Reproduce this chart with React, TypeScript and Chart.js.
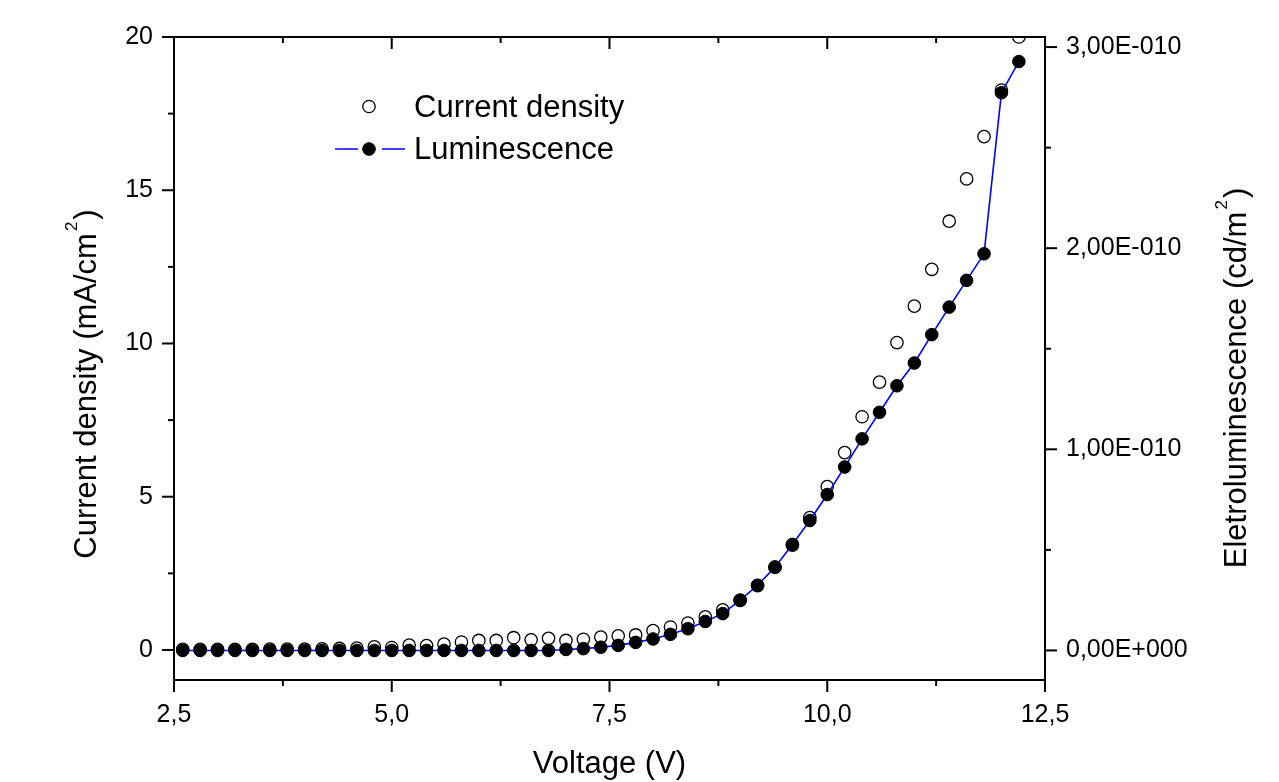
import React, { useEffect, useRef } from 'react';
import { Chart, registerables } from 'chart.js';

Chart.register(...registerables);

// ---- Data ----
const voltage = [
  2.6, 2.8, 3.0, 3.2, 3.4, 3.6, 3.8, 4.0, 4.2, 4.4, 4.6, 4.8, 5.0, 5.2, 5.4, 5.6, 5.8,
  6.0, 6.2, 6.4, 6.6, 6.8, 7.0, 7.2, 7.4, 7.6, 7.8, 8.0, 8.2, 8.4, 8.6, 8.8, 9.0, 9.2,
  9.4, 9.6, 9.8, 10.0, 10.2, 10.4, 10.6, 10.8, 11.0, 11.2, 11.4, 11.6, 11.8, 12.0, 12.2,
];

// mA/cm^2
const currentDensity = [
  0.02, 0.02, 0.02, 0.02, 0.02, 0.03, 0.03, 0.03, 0.04, 0.05, 0.06,
  0.1, 0.08, 0.16, 0.14, 0.19, 0.26, 0.31, 0.31, 0.4, 0.33, 0.38, 0.31, 0.35, 0.42, 0.46, 0.49,
  0.63, 0.75, 0.88, 1.08, 1.31, 1.62, 2.1, 2.7, 3.42, 4.32, 5.33, 6.44, 7.61, 8.74, 10.03,
  11.22, 12.42, 13.99, 15.37, 16.75, 18.27, 20.0,
];

// cd/m^2
const luminescence = [
  0, 0, 0, 0, 0, 0, 0, 0, 0, 0, 0, 0, 0, 0, 0, 0, 0, 0, 0, 0, 0, 0,
  0.005e-10, 0.009e-10, 0.016e-10, 0.025e-10, 0.04e-10,
  0.057e-10, 0.08e-10, 0.108e-10, 0.144e-10, 0.183e-10, 0.25e-10, 0.324e-10, 0.414e-10,
  0.527e-10, 0.646e-10, 0.775e-10, 0.912e-10, 1.052e-10, 1.184e-10, 1.316e-10, 1.429e-10,
  1.57e-10, 1.707e-10, 1.84e-10, 1.972e-10, 2.773e-10, 2.928e-10,
];

const seriesLabels = ['Current density', 'Luminescence'];

// ---- Axes ----
const xMajorTicks = [2.5, 5, 7.5, 10, 12.5];
const xTickLabels = ['2,5', '5,0', '7,5', '10,0', '12,5'];
const xMinorTicks = [3.75, 6.25, 8.75, 11.25];

const yMajorTicks = [0, 5, 10, 15, 20];
const yTickLabels = ['0', '5', '10', '15', '20'];
const yMinorTicks = [2.5, 7.5, 12.5, 17.5];

const y1MajorTicks = [0, 1e-10, 2e-10, 3e-10];
const y1TickLabels = ['0,00E+000', '1,00E-010', '2,00E-010', '3,00E-010'];
const y1MinorTicks = [0.5e-10, 1.5e-10, 2.5e-10];

const xTitle = 'Voltage (V)';
const yTitle = ['Current density (mA/cm', '2', ')'];
const y1Title = ['Eletroluminescence (cd/m', '2', ')'];

const FONT = "'Liberation Sans', Arial, Helvetica, sans-serif";

const framePlugin = {
  id: 'frameTicks',
  afterDatasetsDraw(chart: any) {
    const { ctx, chartArea: a, scales } = chart;
    ctx.save();
    ctx.strokeStyle = '#000';
    ctx.lineWidth = 2;
    ctx.lineCap = 'butt';
    ctx.strokeRect(a.left, a.top, a.right - a.left, a.bottom - a.top);
    const seg = (x1: number, y1: number, x2: number, y2: number) => {
      ctx.beginPath();
      ctx.moveTo(x1, y1);
      ctx.lineTo(x2, y2);
      ctx.stroke();
    };
    const xt = (vals: number[], len: number) =>
      vals.forEach((v) => {
        const p = scales.x.getPixelForValue(v);
        seg(p, a.bottom, p, a.bottom + len);
        seg(p, a.top, p, a.top + len);
      });
    xt(xMajorTicks, 12);
    xt(xMinorTicks, 6);
    const yt = (vals: number[], len: number) =>
      vals.forEach((v) => {
        const p = scales.y.getPixelForValue(v);
        seg(a.left - len, p, a.left, p);
      });
    yt(yMajorTicks, 12);
    yt(yMinorTicks, 6);
    const y1t = (vals: number[], len: number) =>
      vals.forEach((v) => {
        const p = scales.y1.getPixelForValue(v);
        seg(a.right, p, a.right + len, p);
      });
    y1t(y1MajorTicks, 12);
    y1t(y1MinorTicks, 6);
    ctx.restore();
  },
};

function drawSupTitle(ctx: any, parts: string[], cx: number, cy: number) {
  ctx.save();
  ctx.translate(cx, cy);
  ctx.rotate(-Math.PI / 2);
  ctx.fillStyle = '#000';
  ctx.textBaseline = 'alphabetic';
  ctx.textAlign = 'left';
  const main = `31px ${FONT}`;
  const sup = `17px ${FONT}`;
  ctx.font = main;
  const w1 = ctx.measureText(parts[0]).width;
  const w3 = ctx.measureText(parts[2]).width;
  ctx.font = sup;
  const w2 = ctx.measureText(parts[1]).width;
  const gap = 2;
  const total = w1 + gap + w2 + gap + w3;
  let x = -total / 2;
  ctx.font = main;
  ctx.fillText(parts[0], x, 0);
  x += w1 + gap;
  ctx.font = sup;
  ctx.fillText(parts[1], x, -19);
  x += w2 + gap;
  ctx.font = main;
  ctx.fillText(parts[2], x, 0);
  ctx.restore();
}

const decorPlugin = {
  id: 'decor',
  afterDraw(chart: any) {
    const { ctx, chartArea: a } = chart;
    ctx.save();
    // bottom title
    ctx.fillStyle = '#000';
    ctx.font = `31px ${FONT}`;
    ctx.textAlign = 'center';
    ctx.textBaseline = 'alphabetic';
    ctx.fillText(xTitle, (a.left + a.right) / 2, 773);
    ctx.restore();

    drawSupTitle(ctx, yTitle, 96, 384);
    drawSupTitle(ctx, y1Title, 1246, 378);

    // legend
    const ds = chart.data.datasets;
    ctx.save();
    const mx = 369;
    const rows = [106.5, 149];
    // row 1: open circle
    ctx.beginPath();
    ctx.arc(mx, rows[0], ds[0].pointRadius, 0, Math.PI * 2);
    ctx.fillStyle = '#fff';
    ctx.fill();
    ctx.lineWidth = ds[0].pointBorderWidth;
    ctx.strokeStyle = '#000';
    ctx.stroke();
    // row 2: line + filled circle
    ctx.strokeStyle = ds[1].borderColor;
    ctx.lineWidth = ds[1].borderWidth;
    ctx.beginPath();
    ctx.moveTo(335, rows[1]);
    ctx.lineTo(358, rows[1]);
    ctx.moveTo(382, rows[1]);
    ctx.lineTo(405, rows[1]);
    ctx.stroke();
    ctx.beginPath();
    ctx.arc(mx, rows[1], ds[1].pointRadius, 0, Math.PI * 2);
    ctx.fillStyle = '#000';
    ctx.fill();
    ctx.lineWidth = 1;
    ctx.strokeStyle = '#000';
    ctx.stroke();
    // texts
    ctx.font = `31px ${FONT}`;
    ctx.fillStyle = '#000';
    ctx.textAlign = 'left';
    ctx.textBaseline = 'alphabetic';
    ctx.fillText(ds[0].label, 414, 117);
    ctx.fillText(ds[1].label, 414, 159);
    ctx.restore();
  },
};

export default function App() {
  const ref = useRef<HTMLCanvasElement>(null);

  useEffect(() => {
    document.body.style.margin = '0';
    const tickFont = { family: FONT, size: 25 };
    const chart = new Chart(ref.current as HTMLCanvasElement, {
      type: 'line',
      data: {
        datasets: [
          {
            label: seriesLabels[0],
            data: voltage.map((v, i) => ({ x: v, y: currentDensity[i] })),
            yAxisID: 'y',
            showLine: false,
            pointStyle: 'circle',
            pointRadius: 6.2,
            pointBorderWidth: 1.3,
            pointBackgroundColor: '#ffffff',
            pointBorderColor: '#000000',
            borderColor: '#000000',
            order: 2,
            clip: 0,
          } as any,
          {
            label: seriesLabels[1],
            data: voltage.map((v, i) => ({ x: v, y: luminescence[i] })),
            yAxisID: 'y1',
            showLine: true,
            tension: 0,
            borderColor: '#0000ff',
            borderWidth: 1.6,
            pointStyle: 'circle',
            pointRadius: 6.3,
            pointBorderWidth: 1,
            pointBackgroundColor: '#000000',
            pointBorderColor: '#000000',
            order: 1,
            clip: false,
          } as any,
        ],
      },
      options: {
        animation: false,
        responsive: false,
        devicePixelRatio: 1,
        events: [],
        layout: { padding: { top: 37, left: 0, right: 0, bottom: 0 } },
        plugins: {
          legend: { display: false },
          tooltip: { enabled: false },
          title: { display: false },
        },
        scales: {
          x: {
            type: 'linear',
            position: 'bottom',
            min: 2.5,
            max: 12.5,
            grid: { display: false, drawTicks: false },
            border: { display: false },
            afterBuildTicks: (s: any) => {
              s.ticks = xMajorTicks.map((v) => ({ value: v }));
            },
            afterFit: (s: any) => {
              s.height = 102;
            },
            ticks: {
              autoSkip: false,
              maxRotation: 0,
              padding: 20,
              color: '#000',
              font: tickFont,
              callback: (_v: any, i: number) => xTickLabels[i],
            },
          },
          y: {
            type: 'linear',
            position: 'left',
            min: -0.98,
            max: 20,
            grid: { display: false, drawTicks: false },
            border: { display: false },
            afterBuildTicks: (s: any) => {
              s.ticks = yMajorTicks.map((v) => ({ value: v }));
            },
            afterFit: (s: any) => {
              s.width = 174;
            },
            ticks: {
              autoSkip: false,
              padding: 21,
              color: '#000',
              font: tickFont,
              callback: (_v: any, i: number) => yTickLabels[i],
            },
          },
          y1: {
            type: 'linear',
            position: 'right',
            min: -0.147e-10,
            max: 3.05e-10,
            grid: { display: false, drawTicks: false },
            border: { display: false },
            afterBuildTicks: (s: any) => {
              s.ticks = y1MajorTicks.map((v) => ({ value: v }));
            },
            afterFit: (s: any) => {
              s.width = 234;
            },
            ticks: {
              autoSkip: false,
              padding: 21,
              color: '#000',
              font: tickFont,
              callback: (_v: any, i: number) => y1TickLabels[i],
            },
          },
        },
      } as any,
      plugins: [framePlugin, decorPlugin],
    });
    return () => chart.destroy();
  }, []);

  return (
    <div style={{ width: 1279, height: 782, background: '#ffffff' }}>
      <canvas ref={ref} width={1279} height={782} style={{ display: 'block' }} />
    </div>
  );
}
